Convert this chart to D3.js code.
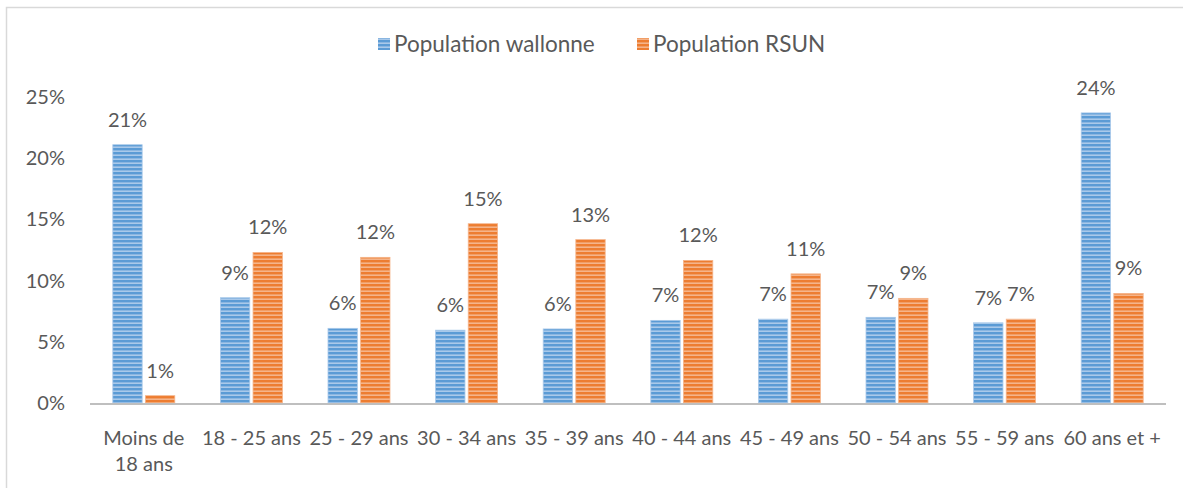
<!DOCTYPE html>
<html>
<head>
<meta charset="utf-8">
<script src="https://cdn.jsdelivr.net/npm/d3@7"></script>
<style>
  body { margin: 0; background: #fff; }
  svg text { font-family: Lato, "Open Sans", sans-serif; fill: #595959; }
</style>
</head>
<body>
<div id="chart"></div>
<script>
// age groups and shares
const categories = ["Moins de 18 ans", "18 - 25 ans", "25 - 29 ans", "30 - 34 ans", "35 - 39 ans",
                    "40 - 44 ans", "45 - 49 ans", "50 - 54 ans", "55 - 59 ans", "60 ans et +"];
const wallonne = [21.1, 8.6, 6.1, 5.95, 6.05, 6.75, 6.85, 7.0, 6.55, 23.7];
const rsun = [0.6, 12.3, 11.9, 14.65, 13.35, 11.65, 10.55, 8.55, 6.85, 8.95];
const seriesNames = ["Population wallonne", "Population RSUN"];
const yTicks = [0, 5, 10, 15, 20, 25];

const width = 1183, height = 488;
const colors = ["#5b9bd5", "#ed7d31"];
const light = ["#a9c9ea", "#f5b48a"];

const svg = d3.select("#chart").append("svg")
    .attr("width", width)
    .attr("height", height);

// striped fills
const defs = svg.append("defs");
colors.forEach((c, i) => {
  const p = defs.append("pattern")
      .attr("id", "stripe" + i)
      .attr("patternUnits", "userSpaceOnUse")
      .attr("width", 8).attr("height", 4);
  p.append("rect").attr("width", 8).attr("height", 4).attr("fill", light[i]);
  p.append("rect").attr("width", 8).attr("height", 2.4).attr("fill", c);
});

// chart frame
svg.append("path")
    .attr("d", `M6.5,${height} V7.5 H${width}`)
    .attr("fill", "none")
    .attr("stroke", "#d9d9d9")
    .attr("stroke-width", 1.5);

const x0 = d3.scaleBand().domain(categories).range([90, 1166]);
const x1 = d3.scaleBand().domain([0, 1]).range([0, 62]).paddingInner(0.1);
const y = d3.scaleLinear().domain([0, 25]).range([403, 97]);

// y labels
svg.append("g").selectAll("text")
  .data(yTicks).enter().append("text")
    .attr("x", 65)
    .attr("y", d => y(d))
    .attr("dy", "0.35em")
    .attr("text-anchor", "end")
    .attr("font-size", 20)
    .text(d => d + "%");

const groups = svg.append("g").selectAll("g")
  .data(categories).enter().append("g")
    .attr("transform", d => `translate(${x0(d) + x0.bandwidth() / 2 - 31},0)`);

const fmt = d3.format(".0f");
groups.each(function(cat, ci) {
  const g = d3.select(this);
  [wallonne[ci], rsun[ci]].forEach((v, si) => {
    g.append("rect")
        .attr("x", x1(si))
        .attr("y", y(v))
        .attr("width", x1.bandwidth())
        .attr("height", y(0) - y(v))
        .attr("fill", `url(#stripe${si})`)
        .attr("stroke", light[si])
        .attr("stroke-width", 0.8);
    g.append("text")
        .attr("x", x1(si) + x1.bandwidth() / 2)
        .attr("y", y(v) - 18)
        .attr("text-anchor", "middle")
        .attr("font-size", 20)
        .text(fmt(v) + "%");
  });
});

// x axis line
svg.append("line")
    .attr("x1", 90).attr("x2", 1166)
    .attr("y1", y(0) + 1).attr("y2", y(0) + 1)
    .attr("stroke", "#bfbfbf")
    .attr("stroke-width", 2);

// category labels (first one wraps)
const catLabels = svg.append("g").selectAll("text")
  .data(categories).enter().append("text")
    .attr("text-anchor", "middle")
    .attr("font-size", 20)
    .attr("y", 445);
catLabels.each(function(d, i) {
  const t = d3.select(this);
  const cx = x0(d) + x0.bandwidth() / 2;
  const lines = i === 0 ? ["Moins de", "18 ans"] : [d];
  lines.forEach((l, li) => {
    t.append("tspan").attr("x", cx).attr("dy", li ? 26 : 0).text(l);
  });
});

// legend
const legend = svg.append("g").attr("transform", "translate(378,44)");
const legendX = [0, 259];
seriesNames.forEach((n, i) => {
  legend.append("rect")
      .attr("x", legendX[i]).attr("y", -6)
      .attr("width", 12).attr("height", 12)
      .attr("fill", `url(#stripe${i})`);
  legend.append("text")
      .attr("x", legendX[i] + 16)
      .attr("y", 0)
      .attr("dy", "0.35em")
      .attr("font-size", 22.5)
      .text(n);
});
</script>
</body>
</html>
